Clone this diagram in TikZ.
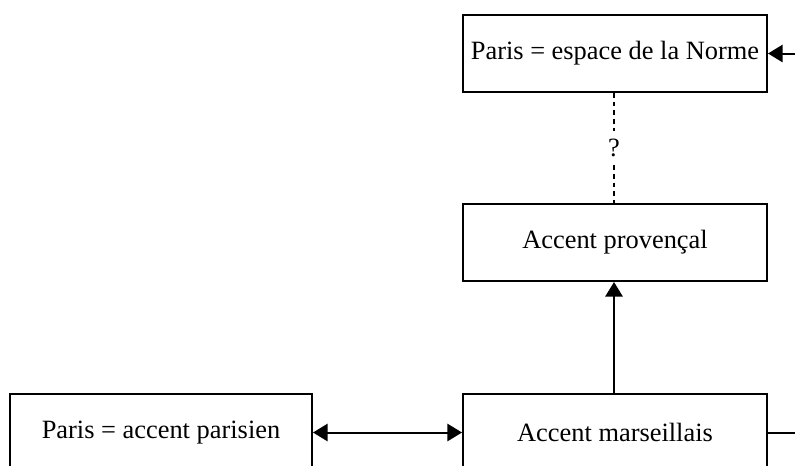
\documentclass[tikz,border=0pt]{standalone}
\usepackage{fontspec}
\setmainfont{Liberation Serif}
\usetikzlibrary{arrows.meta}
\begin{document}
\begin{tikzpicture}[x=0.75pt,y=-0.75pt,
  box/.style={draw, line width=1.5pt, minimum width=304*0.75pt, minimum height=77*0.75pt,
    inner sep=0pt, font=\fontsize{19.8}{24}\selectfont},
  link/.style={line width=1.5pt},
  head/.tip={Triangle[length=11pt,width=13pt]},
  tip/.style={-head}]
  \useasboundingbox (0,0) rectangle (795,465);
  \clip (0,0) rectangle (795,465);
  % boxes
  \node[box] (norme) at (615,53.5) {Paris = espace de la Norme};
  \node[box] (prov) at (615,242.5) {Accent provençal};
  \node[box] (mars) at (615,432.5) {Accent marseillais};
  \node[box, minimum width=302*0.75pt] (paris) at (161,432.5) {Paris = accent parisien};
  % question mark on the dotted link
  \node[font=\fontsize{19.8}{24}\selectfont, inner xsep=1pt, inner ysep=6pt] (q) at (614,148) {?};
  \coordinate (inR) at (800,53.5);
  \coordinate (outR) at (800,432.5);
  % connectors
  \draw[link, dash pattern=on 3.5pt off 3pt] (norme.south -| q) -- (q.north);
  \draw[link, dash pattern=on 3.5pt off 3pt] (q.south) -- (prov.north -| q);
  \draw[link, tip] (mars.north -| q) -- (prov.south -| q);
  \draw[link, head-head] (paris.east) -- (mars.west);
  \draw[link, tip] (inR) -- (norme.east);
  \draw[link] (mars.east) -- (outR);
\end{tikzpicture}
\end{document}
